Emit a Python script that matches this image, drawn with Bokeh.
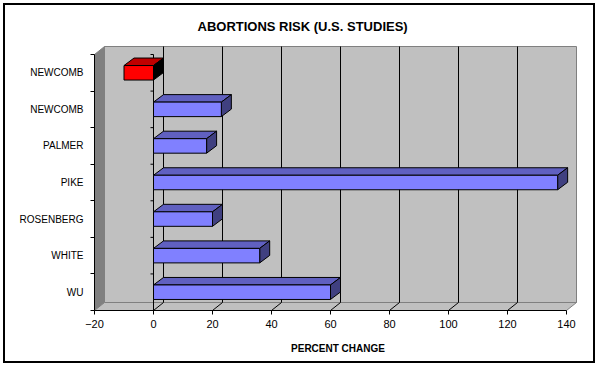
from bokeh.plotting import figure
from bokeh.models import Range1d, FixedTicker
from bokeh.embed import file_html
from bokeh.resources import INLINE

# ---- data ----
title_text = "ABORTIONS RISK (U.S. STUDIES)"
x_label = "PERCENT CHANGE"
studies = ["WU", "WHITE", "ROSENBERG", "PIKE", "PALMER", "NEWCOMB", "NEWCOMB"]
percent_change = [60, 36, 20, 137, 18, 23, -10]
x_ticks = [-20, 0, 20, 40, 60, 80, 100, 120, 140]

# ---- layout / style constants ----
FRAME_W, FRAME_H = 487, 266
PX_PER_X = 2.95
PX_PER_CAT = 36.57
X_START = x_ticks[0]
X_END = X_START + FRAME_W / PX_PER_X
Y_START = -0.5
Y_END = Y_START + FRAME_H / PX_PER_CAT
DEPTH_X_PX, DEPTH_Y_PX = 10, 8
BAR_DEPTH_Y_PX = 7.5
BAR_H_PX = 14.5
FONT = "Liberation Sans"

dx = DEPTH_X_PX / PX_PER_X
dy = DEPTH_Y_PX / PX_PER_CAT
bdy = BAR_DEPTH_Y_PX / PX_PER_CAT
bh = BAR_H_PX / PX_PER_CAT
n = len(studies)
x_min, x_max = x_ticks[0], x_ticks[-1]
y_lo, y_hi = -0.5, n - 0.5

p = figure(width=592, height=360, output_backend="svg", toolbar_location=None,
           x_range=Range1d(X_START, X_END), y_range=Range1d(Y_START, Y_END),
           title=title_text,
           styles={"border": "2px solid black", "margin-left": "3px", "margin-top": "3px"})
p.min_border_left = 89
p.min_border_right = 16
p.min_border_top = 39
p.min_border_bottom = 55
p.outline_line_color = None
p.background_fill_color = "white"
p.border_fill_color = "white"
p.xgrid.visible = False
p.ygrid.visible = False

p.title.align = "left"
p.title.offset = 103
p.title.standoff = 22
p.title.text_font = FONT
p.title.text_font_size = "13px"
p.title.text_font_style = "bold"
p.title.text_color = "black"

# ---- walls & floor ----
WALL = "#c0c0c0"
SIDE = "#808080"
EDGE = "#808080"
p.patch([x_min, x_min + dx, x_min + dx, x_min], [y_lo, y_lo + dy, y_hi + dy, y_hi],
        fill_color=SIDE, line_color=EDGE, line_width=1)
p.quad(left=[x_min + dx], right=[x_max + dx], bottom=[y_lo + dy], top=[y_hi + dy],
       fill_color=WALL, line_color=EDGE, line_width=1)
p.patch([x_min, x_max, x_max + dx, x_min + dx], [y_lo, y_lo, y_lo + dy, y_lo + dy],
        fill_color=WALL, line_color=EDGE, line_width=1)

grid_vals = [t for t in x_ticks if x_min < t < x_max]
p.segment(x0=[t + dx for t in grid_vals], y0=[y_lo + dy] * len(grid_vals),
          x1=[t + dx for t in grid_vals], y1=[y_hi + dy] * len(grid_vals),
          line_color="black", line_width=1)
p.segment(x0=grid_vals, y0=[y_lo] * len(grid_vals),
          x1=[t + dx for t in grid_vals], y1=[y_lo + dy] * len(grid_vals),
          line_color="black", line_width=1)

# category axis at value 0 (front plane)
bounds_y = [y_lo + k for k in range(n + 1)]
p.segment(x0=[0], y0=[y_lo], x1=[0], y1=[y_hi], line_color="black", line_width=1)
tick_len = 3 / PX_PER_X
p.segment(x0=[-tick_len] * len(bounds_y), y0=bounds_y, x1=[0] * len(bounds_y), y1=bounds_y,
          line_color="black", line_width=1)

# ---- bars ----
tops_x, tops_y, sides_x, sides_y = [], [], [], []
front_c, top_c, side_c = [], [], []
for i, v in enumerate(percent_change):
    l, r = min(0, v), max(0, v)
    b, t = i - bh / 2, i + bh / 2
    neg = v < 0
    tops_x.append([l, r, r + dx, l + dx])
    tops_y.append([t, t, t + bdy, t + bdy])
    sides_x.append([r, r, r + dx, r + dx])
    sides_y.append([b, t, t + bdy, b + bdy])
    front_c.append("#ff0000" if neg else "#8080ff")
    top_c.append("#c00000" if neg else "#6060c0")
    side_c.append("#000000" if neg else "#404080")

p.patches(tops_x, tops_y, fill_color=top_c, line_color="black", line_width=1)
p.patches(sides_x, sides_y, fill_color=side_c, line_color="black", line_width=1)
p.quad(left=[min(0, v) for v in percent_change], right=[max(0, v) for v in percent_change],
       bottom=[i - bh / 2 for i in range(n)], top=[i + bh / 2 for i in range(n)],
       fill_color=front_c, line_color="black", line_width=1)

# ---- axes ----
xa = p.xaxis[0]
xa.ticker = FixedTicker(ticks=x_ticks, minor_ticks=[])
xa.bounds = (x_min, x_max)
xa.axis_line_color = "black"
xa.major_tick_out = 4
xa.major_tick_in = 0
xa.major_tick_line_color = "black"
xa.minor_tick_line_color = None
xa.major_label_text_font = FONT
xa.major_label_text_font_size = "11px"
xa.major_label_text_color = "black"
xa.major_label_standoff = 5
xa.axis_label = x_label
xa.axis_label_text_font = FONT
xa.axis_label_text_font_size = "10px"
xa.axis_label_text_font_style = "bold"
xa.axis_label_text_color = "black"
xa.axis_label_standoff = 12

ya = p.yaxis[0]
ya.ticker = FixedTicker(ticks=list(range(n)), minor_ticks=bounds_y)
ya.major_label_overrides = {i: name for i, name in enumerate(studies)}
ya.bounds = (y_lo, y_hi)
ya.axis_line_color = "black"
ya.major_tick_out = 0
ya.major_tick_in = 0
ya.minor_tick_out = 4
ya.minor_tick_in = 0
ya.minor_tick_line_color = "black"
ya.major_label_text_font = FONT
ya.major_label_text_font_size = "10px"
ya.major_label_text_color = "black"
ya.major_label_standoff = 7

open("out.html", "w").write(file_html(p, INLINE))
